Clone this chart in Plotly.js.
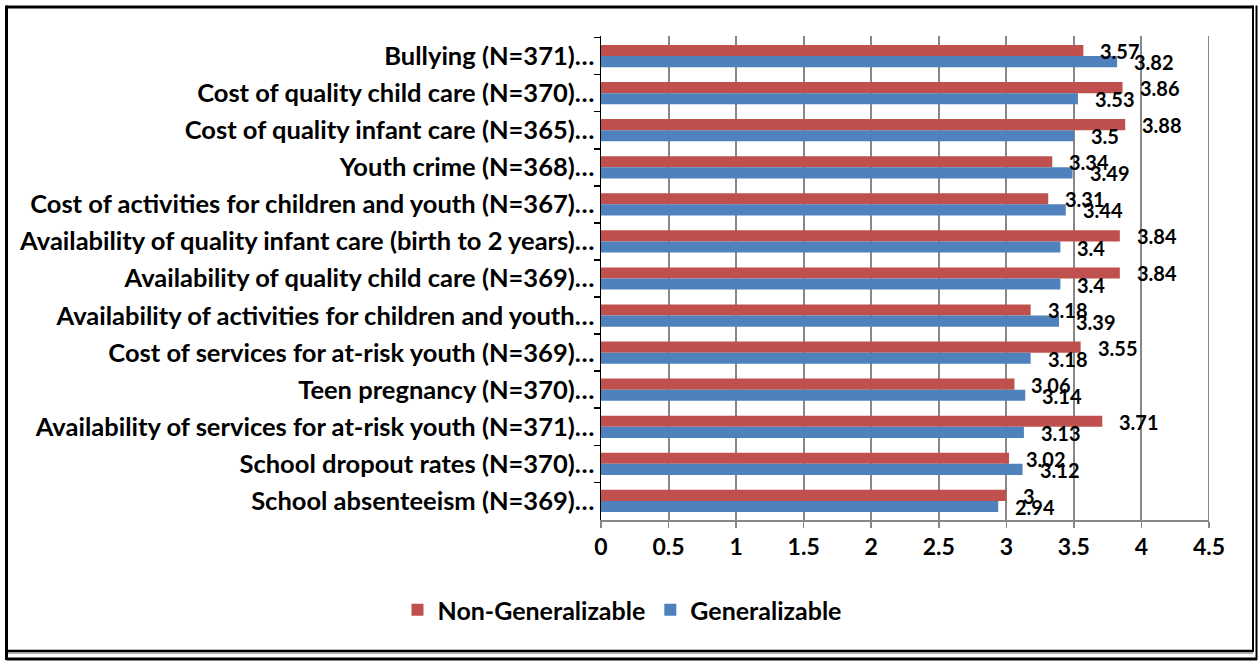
<!DOCTYPE html>
<html>
<head>
<meta charset="utf-8">
<script src="https://cdn.plot.ly/plotly-3.0.1.min.js"></script>
<style>html,body{margin:0;padding:0;background:#fff;}#chart{width:1260px;height:661px;}</style>
</head>
<body>
<div id="chart"></div>
<script>
var categories = [
  "Bullying (N=371)…",
  "Cost of quality child care (N=370)…",
  "Cost of quality infant care (N=365)…",
  "Youth crime (N=368)…",
  "Cost of activities for children and youth (N=367)…",
  "Availability of quality infant care (birth to 2 years)…",
  "Availability of quality child care (N=369)…",
  "Availability of activities for children and youth…",
  "Cost of services for at-risk youth (N=369)…",
  "Teen pregnancy (N=370)…",
  "Availability of services for at-risk youth (N=371)…",
  "School dropout rates (N=370)…",
  "School absenteeism (N=369)…"
];
var nonGeneralizable = [3.57, 3.86, 3.88, 3.34, 3.31, 3.84, 3.84, 3.18, 3.55, 3.06, 3.71, 3.02, 3];
var generalizable    = [3.82, 3.53, 3.5, 3.49, 3.44, 3.4, 3.4, 3.39, 3.18, 3.14, 3.13, 3.12, 2.94];
var seriesNames = ["Non-Generalizable", "Generalizable"];
var xTicks = [0, 0.5, 1, 1.5, 2, 2.5, 3, 3.5, 4, 4.5];

var W = 1260, H = 661;
var M = {l: 601, r: 51, t: 36, b: 141};
var plotW = W - M.l - M.r, plotH = H - M.t - M.b;
function px(x) { return (x - M.l) / plotW; }
function py(y) { return (H - M.b - y) / plotH; }

var FONT = "Lato, 'Open Sans', sans-serif";
var GRID = "#878787";
var bargap = 0.4;
var slot = plotH / categories.length;
var half = slot * (1 - bargap) / 4;

var traces = [
  {type: "bar", orientation: "h", name: seriesNames[0], y: categories, x: nonGeneralizable,
   marker: {color: "#C0504D"}, hoverinfo: "x"},
  {type: "bar", orientation: "h", name: seriesNames[1], y: categories, x: generalizable,
   marker: {color: "#4F81BD"}, hoverinfo: "x"}
];

var annotations = [];
var allSeries = [nonGeneralizable, generalizable];
allSeries.forEach(function (vals, s) {
  vals.forEach(function (v, i) {
    annotations.push({
      x: v, y: categories[i], xref: "x", yref: "y",
      text: String(v), showarrow: false, xanchor: "left", yanchor: "middle",
      xshift: 15, yshift: (s === 0 ? half : -half) - 0.5,
      font: {family: FONT, size: 20, color: "#000", weight: 700}
    });
  });
});

var L = function (x0, y0, x1, y1, w, c) {
  return {type: "line", xref: "paper", yref: "paper", x0: px(x0), y0: py(y0), x1: px(x1), y1: py(y1),
          line: {color: c, width: w}};
};
var shapes = [
  // gridline at the last tick (plotly omits the grid line at the range end)
  {type: "line", xref: "x", yref: "paper", x0: xTicks[xTicks.length - 1], x1: xTicks[xTicks.length - 1],
   y0: 0, y1: 1, line: {color: GRID, width: 2}, layer: "below"},
  L(6.5, 7, 1253, 7, 3, "#000"),
  L(6.5, 5.5, 6.5, 660, 3, "#000"),
  L(1253, 5.5, 1253, 652, 2, "#000"),
  L(6.5, 651, 1253, 651, 2.5, "#000"),
  L(8, 653, 1253, 653, 1.5, "#999"),
  L(6.5, 659, 1257, 659, 3, "#000"),
  L(1256.5, 5.5, 1256.5, 660, 2, "#000")
];

var layout = {
  width: W, height: H,
  margin: M,
  paper_bgcolor: "#fff", plot_bgcolor: "#fff",
  barmode: "group", bargap: bargap, bargroupgap: 0,
  showlegend: true,
  legend: {orientation: "h", x: px(622), xanchor: "center", y: py(610), yanchor: "middle",
           font: {family: FONT, size: 25, color: "#000", weight: 700}},
  xaxis: {range: [0, 4.5], tickvals: xTicks, ticktext: xTicks.map(String),
          showgrid: true, gridcolor: GRID, gridwidth: 2,
          showline: true, linecolor: GRID, linewidth: 1.5,
          ticks: "outside", ticklen: 6, tickcolor: GRID, tickwidth: 1.5,
          zeroline: false, fixedrange: true,
          tickfont: {family: FONT, size: 23, color: "#000", weight: 700}},
  yaxis: {type: "category", autorange: "reversed", tickson: "boundaries",
          showline: true, linecolor: "#000", linewidth: 1.5,
          ticks: "outside", ticklen: 6, tickcolor: "#000", tickwidth: 1.5,
          showgrid: false, fixedrange: true,
          tickfont: {family: FONT, size: 25.5, color: "#000", weight: 700}},
  annotations: annotations,
  shapes: shapes
};

Plotly.newPlot("chart", traces, layout, {displayModeBar: false, staticPlot: true});
</script>
</body>
</html>
